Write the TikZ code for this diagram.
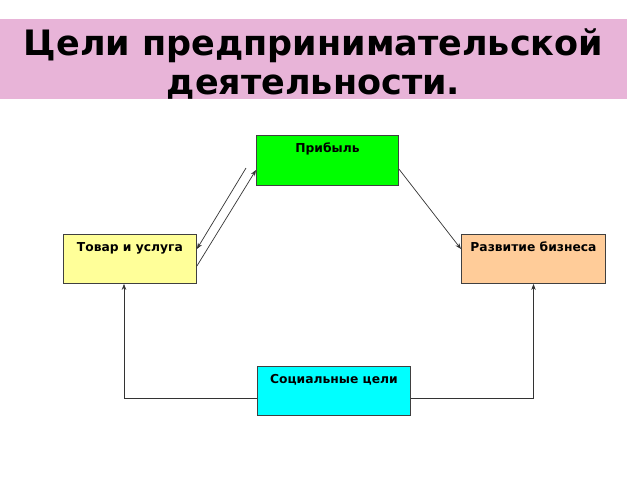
\documentclass[tikz,border=0pt]{standalone}
\usepackage{fontspec}
\setmainfont{DejaVu Sans}
\usetikzlibrary{arrows.meta}
\definecolor{bandpink}{HTML}{E8B4D8}
\definecolor{boxgreen}{HTML}{00FF00}
\definecolor{boxyellow}{HTML}{FFFF99}
\definecolor{boxorange}{HTML}{FFCC99}
\definecolor{boxcyan}{HTML}{00FFFF}
\definecolor{edgegray}{HTML}{404040}
\tikzset{
  goalbox/.style={draw=edgegray, line width=0.9pt, rectangle, inner sep=0pt, anchor=north west},
  boxlabel/.style={anchor=base, yshift=-17pt, inner sep=0pt, font=\bfseries\fontsize{12.3}{14}\selectfont},
  conn/.style={draw=black!80, line width=0.7pt},
  arr/.style={conn, -{Stealth[length=6pt,width=4.5pt]}},
  titletext/.style={font=\bfseries\fontsize{35}{39}\selectfont, anchor=base, inner sep=0pt}
}
\begin{document}
\begin{tikzpicture}[x=1pt,y=-1pt]
\useasboundingbox (0,0) rectangle (640,480);
\fill[white] (0,0) rectangle (640,480);
\node[fill=bandpink, rectangle, inner sep=0pt, minimum width=627pt, minimum height=80pt, anchor=north west] (band) at (0,19) {};
\node[titletext] (title1) at (313.5,55) {Цели предпринимательской};
\node[titletext] (title2) at (313.5,94) {деятельности.};
\node[goalbox, fill=boxgreen, minimum width=142pt, minimum height=50pt,
  label={[boxlabel]north:Прибыль}] (profit) at (256,135) {};
\node[goalbox, fill=boxyellow, minimum width=133pt, minimum height=49pt,
  label={[boxlabel]north:Товар и услуга}] (goods) at (63,234) {};
\node[goalbox, fill=boxorange, minimum width=144pt, minimum height=49pt,
  label={[boxlabel]north:Развитие бизнеса}] (dev) at (461,234) {};
\node[goalbox, fill=boxcyan, minimum width=153pt, minimum height=49pt,
  label={[boxlabel]north:Социальные цели}] (social) at (257,366) {};
\coordinate (freeA) at (246,168);
\draw[arr] (freeA) -- (goods.east |- 0,249);
\draw[arr] (goods.east |- 0,266) -- (profit.west |- 0,170);
\draw[arr] (profit.east |- 0,169) -- (dev.west |- 0,249);
\draw[arr] (social.west |- 0,398) -| (124,0 |- goods.south);
\draw[arr] (social.east |- 0,398) -| (533.5,0 |- dev.south);
\end{tikzpicture}
\end{document}
